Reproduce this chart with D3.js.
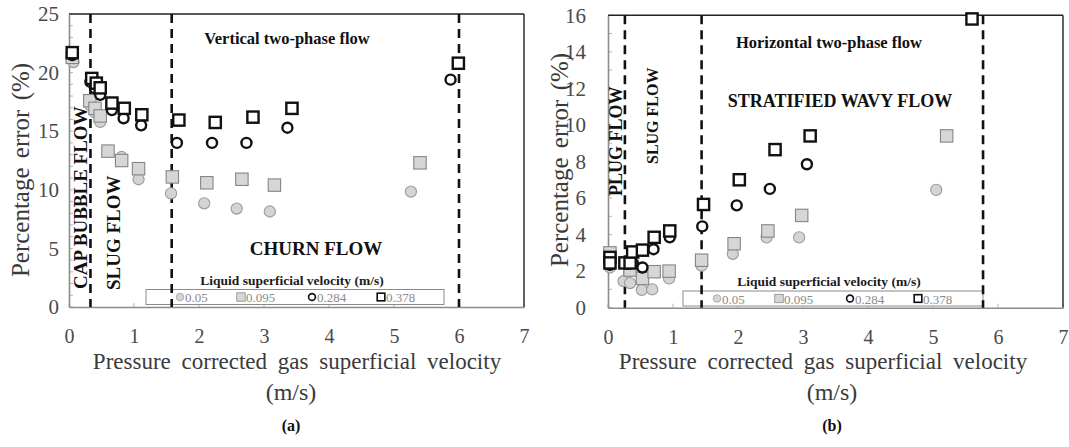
<!DOCTYPE html>
<html>
<head>
<meta charset="utf-8">
<script src="https://cdn.jsdelivr.net/npm/d3@7"></script>
<style>
  html, body { margin: 0; padding: 0; background: #fff; }
  svg { display: block; }
</style>
</head>
<body>
<svg id="chart" width="1069" height="447"></svg>
<script>
// ---- data ---------------------------------------------------------------
const liquidVelocities = ["0.05", "0.095", "0.284", "0.378"];
const xTicks = [0, 1, 2, 3, 4, 5, 6, 7];
const vertYTicks = [0, 5, 10, 15, 20, 25];
const horizYTicks = [0, 2, 4, 6, 8, 10, 12, 14, 16];

// regime boundaries (gas superficial velocity, m/s)
const vertBoundaries = [0.33, 1.58, 6.0];
const horizBoundaries = [0.26, 1.44, 5.77];

// (a) vertical two-phase flow: [gas velocity, % error]
const vert005 = [[0.07, 20.9], [0.33, 17.2], [0.4, 16.6], [0.48, 15.8], [0.81, 12.8], [1.07, 10.9],
  [1.57, 9.7], [2.08, 8.85], [2.58, 8.4], [3.09, 8.15], [5.26, 9.85]];
const vert0095 = [[0.05, 21.3], [0.32, 17.6], [0.4, 16.95], [0.48, 16.3], [0.6, 13.3], [0.81, 12.5],
  [1.07, 11.8], [1.59, 11.1], [2.12, 10.6], [2.66, 10.9], [3.16, 10.4], [5.4, 12.3]];
const vert0284 = [[0.05, 21.5], [0.33, 19.2], [0.4, 18.65], [0.48, 18.1], [0.66, 16.8], [0.84, 16.1],
  [1.11, 15.5], [1.66, 14.0], [2.2, 14.0], [2.73, 14.0], [3.36, 15.3], [5.87, 19.4]];
const vert0378 = [[0.05, 21.7], [0.35, 19.5], [0.42, 19.1], [0.48, 18.7], [0.66, 17.4], [0.85, 16.95],
  [1.12, 16.4], [1.69, 15.95], [2.25, 15.75], [2.83, 16.2], [3.43, 16.95], [5.99, 20.8]];

// (b) horizontal two-phase flow: [gas velocity, % error]
const horiz005 = [[0.03, 2.2], [0.24, 1.45], [0.34, 1.35], [0.52, 0.97], [0.68, 1.0], [0.94, 1.6],
  [1.44, 2.3], [1.92, 2.95], [2.44, 3.85], [2.94, 3.85], [5.05, 6.45]];
const horiz0095 = [[0.03, 3.0], [0.34, 2.06], [0.53, 1.6], [0.71, 1.97], [0.94, 2.0], [1.44, 2.6],
  [1.94, 3.5], [2.46, 4.2], [2.98, 5.05], [5.21, 9.4]];
const horiz0284 = [[0.03, 2.55], [0.03, 2.35], [0.3, 2.4], [0.38, 2.45], [0.53, 2.2], [0.7, 3.2],
  [0.95, 3.85], [1.45, 4.45], [1.98, 5.6], [2.49, 6.5], [3.06, 7.85]];
const horiz0378 = [[0.03, 2.75], [0.03, 2.45], [0.26, 2.45], [0.34, 2.45], [0.38, 3.05], [0.53, 3.15],
  [0.71, 3.85], [0.95, 4.2], [1.47, 5.65], [2.02, 7.0], [2.57, 8.65], [3.11, 9.4], [5.6, 15.8]];

// ---- marker styles per liquid velocity ----------------------------------
const markerStyles = [
  { shape: "circle", fill: "#d4d4d4", stroke: "#9c9c9c", sw: 1.1, r: 5.6 },
  { shape: "square", fill: "#d6d6d6", stroke: "#858585", sw: 1.1, r: 6.2 },
  { shape: "circle", fill: "#ffffff", stroke: "#111111", sw: 2.4, r: 5.0 },
  { shape: "square", fill: "#ffffff", stroke: "#111111", sw: 2.4, r: 5.6 }
];

const SERIF = "'Liberation Serif', 'Times New Roman', Times, serif";
const svg = d3.select("#chart");

function drawMarker(g, style, x, y, scale) {
  const r = style.r * (scale || 1);
  if (style.shape === "circle") {
    g.append("circle").attr("cx", x).attr("cy", y).attr("r", r)
      .attr("fill", style.fill).attr("stroke", style.stroke)
      .attr("stroke-width", style.sw * (scale || 1));
  } else {
    g.append("rect").attr("x", x - r).attr("y", y - r)
      .attr("width", 2 * r).attr("height", 2 * r)
      .attr("fill", style.fill).attr("stroke", style.stroke)
      .attr("stroke-width", style.sw * (scale || 1));
  }
}

function drawPanel(cfg) {
  const g = svg.append("g");
  const x = d3.scaleLinear().domain([0, 7]).range(cfg.xRange);
  const y = d3.scaleLinear().domain([0, cfg.yMax]).range(cfg.yRange);
  const [left, right] = cfg.xRange;
  const [bottom, top] = cfg.yRange;

  // minor ticks inside the plot
  const minorY = d3.range(0, cfg.yMax + 0.001, cfg.yMinor);
  g.selectAll(".my").data(minorY).join("line")
    .attr("x1", left).attr("x2", left + 4)
    .attr("y1", d => y(d)).attr("y2", d => y(d))
    .attr("stroke", "#b5b5b5").attr("stroke-width", 1);
  g.selectAll(".mx").data(xTicks).join("line")
    .attr("x1", d => x(d)).attr("x2", d => x(d))
    .attr("y1", bottom).attr("y2", bottom - 4)
    .attr("stroke", "#b5b5b5").attr("stroke-width", 1);

  // frame: grey axes, dark top/right border
  g.append("line").attr("x1", left).attr("x2", right).attr("y1", top).attr("y2", top)
    .attr("stroke", "#222").attr("stroke-width", 1.4);
  g.append("line").attr("x1", right).attr("x2", right).attr("y1", top).attr("y2", bottom)
    .attr("stroke", "#222").attr("stroke-width", 1.4);

  // axes
  const xAxis = g.append("g").attr("transform", `translate(0,${bottom})`)
    .call(d3.axisBottom(x).tickValues(xTicks).tickSize(0).tickPadding(22).tickFormat(d3.format("d")));
  xAxis.select(".domain").attr("stroke", "#8c8c8c").attr("stroke-width", 1.6);
  xAxis.selectAll("text").attr("font-size", 20).attr("fill", "#4a4a4a");

  const yAxis = g.append("g").attr("transform", `translate(${left},0)`)
    .call(d3.axisLeft(y).tickValues(cfg.yTicks).tickSize(0).tickPadding(cfg.yPad).tickFormat(d3.format("d")));
  yAxis.select(".domain").attr("stroke", "#8c8c8c").attr("stroke-width", 1.6);
  yAxis.selectAll("text").attr("font-size", 21).attr("fill", "#4a4a4a");

  // legend box
  const lg = g.append("g");
  lg.append("rect").attr("x", cfg.legend.x0).attr("y", cfg.legend.y0)
    .attr("width", cfg.legend.x1 - cfg.legend.x0).attr("height", 15)
    .attr("fill", "#fff").attr("stroke", "#8a8a8a").attr("stroke-width", 1);
  lg.append("text").attr("x", cfg.legend.titleX).attr("y", cfg.legend.y0 - 5)
    .attr("text-anchor", "middle").attr("font-size", 13.5).attr("font-weight", "bold")
    .attr("fill", "#1a1a1a").text("Liquid superficial velocity (m/s)");
  liquidVelocities.forEach((lab, i) => {
    const mx = cfg.legend.items[i];
    drawMarker(lg, markerStyles[i], mx, cfg.legend.y0 + 7.5, 0.68);
    lg.append("text").attr("x", mx + 5).attr("y", cfg.legend.y0 + 12.5)
      .attr("font-size", 13).attr("fill", "#8a8a8a").text(lab);
  });

  // regime boundaries
  g.selectAll(".bnd").data(cfg.boundaries).join("line")
    .attr("x1", d => x(d)).attr("x2", d => x(d))
    .attr("y1", top).attr("y2", bottom)
    .attr("stroke", "#111").attr("stroke-width", 2.6)
    .attr("stroke-dasharray", "9,6");

  // scatter series
  cfg.series.forEach((data, i) => {
    const sg = g.append("g");
    data.forEach(d => drawMarker(sg, markerStyles[i], x(d[0]), y(d[1])));
  });

  // annotations
  cfg.labels.forEach(l => {
    const t = g.append("text").attr("font-weight", "bold").attr("font-size", l.size)
      .attr("fill", "#111").text(l.text);
    if (l.rotate) {
      t.attr("transform", `translate(${l.x},${l.y}) rotate(-90)`).attr("text-anchor", "start");
    } else {
      t.attr("x", l.x).attr("y", l.y).attr("text-anchor", "middle");
    }
  });

  // axis titles
  g.append("text").attr("transform", `translate(${cfg.yTitleX},${cfg.yTitleY}) rotate(-90)`)
    .attr("text-anchor", "middle").attr("font-size", 25).attr("fill", "#3a3a3a")
    .attr("word-spacing", 3).text("Percentage error (%)");
  g.append("text").attr("x", cfg.xTitleX).attr("y", 369)
    .attr("text-anchor", "middle").attr("font-size", 23).attr("fill", "#3a3a3a")
    .attr("word-spacing", 5).text("Pressure corrected gas superficial velocity");
  g.append("text").attr("x", cfg.unitX).attr("y", 400)
    .attr("text-anchor", "middle").attr("font-size", 24).attr("fill", "#3a3a3a").text("(m/s)");
  g.append("text").attr("x", cfg.unitX).attr("y", 431)
    .attr("text-anchor", "middle").attr("font-size", 16).attr("font-weight", "bold")
    .attr("fill", "#111").text(cfg.panelTag);
}

drawPanel({
  xRange: [69, 524], yRange: [307, 14], yMax: 25, yTicks: vertYTicks, yMinor: 1, yPad: 10,
  boundaries: vertBoundaries,
  series: [vert005, vert0095, vert0284, vert0378],
  legend: { x0: 146, x1: 444, y0: 289.5, titleX: 292, items: [180, 241, 312, 381] },
  labels: [
    { text: "Vertical two-phase flow", x: 287, y: 44, size: 16.5 },
    { text: "CHURN FLOW", x: 316, y: 255, size: 19 },
    { text: "CAP BUBBLE FLOW", x: 87, y: 289, size: 19, rotate: true },
    { text: "SLUG FLOW", x: 120, y: 290, size: 19, rotate: true }
  ],
  yTitleX: 29, yTitleY: 170, xTitleX: 297, unitX: 291, panelTag: "(a)"
});

drawPanel({
  xRange: [608, 1063], yRange: [307.7, 15.3], yMax: 16, yTicks: horizYTicks, yMinor: 1, yPad: 22,
  boundaries: horizBoundaries,
  series: [horiz005, horiz0095, horiz0284, horiz0378],
  legend: { x0: 683, x1: 983, y0: 291, titleX: 829, items: [717, 779, 850, 918] },
  labels: [
    { text: "Horizontal two-phase flow", x: 829, y: 48, size: 16.5 },
    { text: "STRATIFIED WAVY FLOW", x: 840, y: 107, size: 18 },
    { text: "PLUG FLOW", x: 622, y: 196, size: 18, rotate: true },
    { text: "SLUG FLOW", x: 658, y: 164, size: 16, rotate: true }
  ],
  yTitleX: 568, yTitleY: 160, xTitleX: 823, unitX: 832, panelTag: "(b)"
});

// every label in the figure uses the serif face
svg.selectAll("text").style("font-family", SERIF);
</script>
</body>
</html>
